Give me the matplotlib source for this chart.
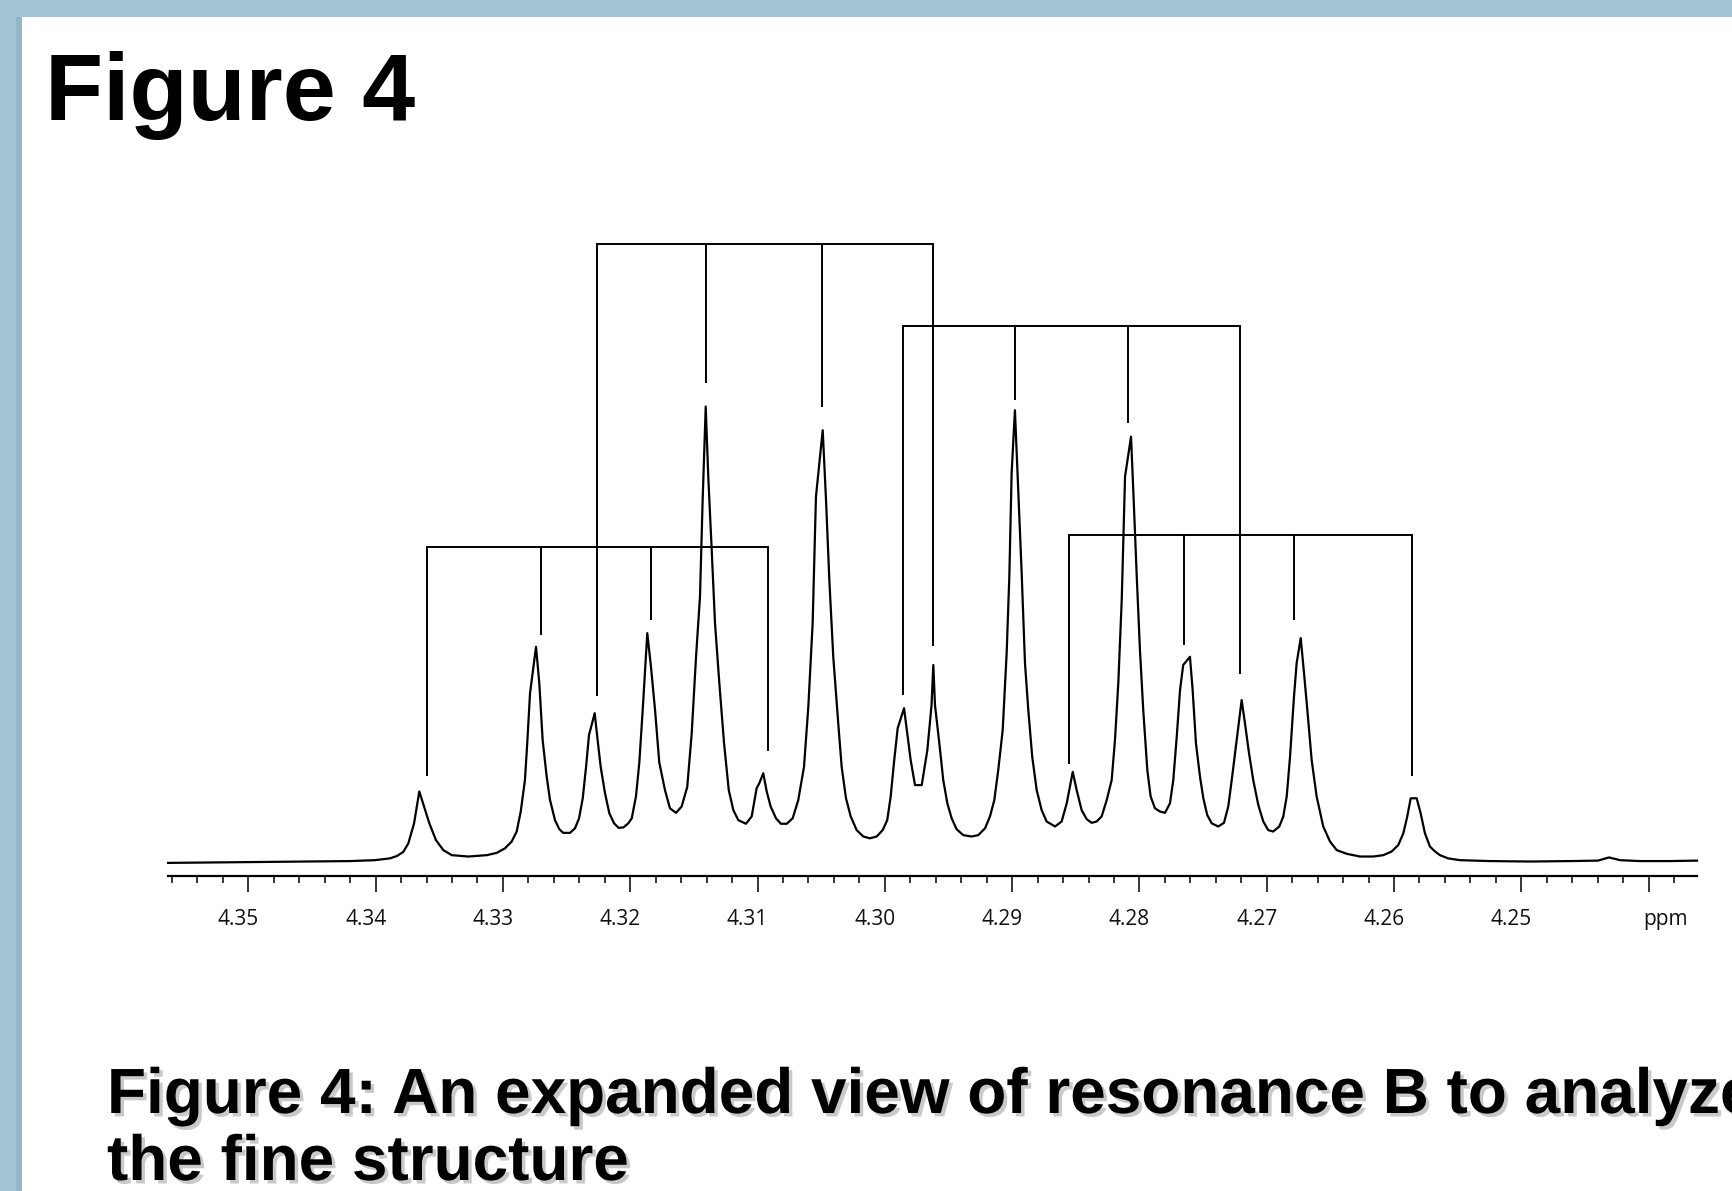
import matplotlib
matplotlib.use("Agg")
import matplotlib.pyplot as plt
import matplotlib.patheffects as pe
from matplotlib.patches import Rectangle
from matplotlib.ticker import MultipleLocator
from matplotlib.transforms import ScaledTranslation

# spectrum trace: chemical shift (ppm) and
# relative intensity (tallest line = 100)
shift_ppm = [
    4.35631, 4.35301, 4.34908, 4.34515, 4.34201, 4.34005, 4.33887, 4.33834,
    4.33783, 4.33743, 4.33698, 4.33657, 4.33578, 4.33526, 4.33468, 4.33402,
    4.33272, 4.33127, 4.33049, 4.32984, 4.32931, 4.32892, 4.32860, 4.32827,
    4.32809, 4.32787, 4.32740, 4.32714, 4.32688, 4.32656, 4.32630, 4.32591,
    4.32557, 4.32526, 4.32473, 4.32434, 4.32402, 4.32373, 4.32347, 4.32324,
    4.32279, 4.32259, 4.32232, 4.32198, 4.32164, 4.32127, 4.32091, 4.32054,
    4.32015, 4.31988, 4.31955, 4.31929, 4.31902, 4.31866, 4.31837, 4.31805,
    4.31772, 4.31727, 4.31688, 4.31640, 4.31596, 4.31552, 4.31517, 4.31483,
    4.31452, 4.31431, 4.31407, 4.31387, 4.31360, 4.31334, 4.31300, 4.31263,
    4.31226, 4.31190, 4.31151, 4.31091, 4.31046, 4.31007, 4.30986, 4.30955,
    4.30928, 4.30897, 4.30855, 4.30816, 4.30771, 4.30724, 4.30680, 4.30635,
    4.30601, 4.30567, 4.30541, 4.30488, 4.30462, 4.30436, 4.30405, 4.30366,
    4.30339, 4.30305, 4.30268, 4.30221, 4.30169, 4.30117, 4.30064, 4.30017,
    4.29981, 4.29954, 4.29926, 4.29899, 4.29849, 4.29797, 4.29763, 4.29710,
    4.29666, 4.29633, 4.29619, 4.29606, 4.29572, 4.29541, 4.29509, 4.29475,
    4.29436, 4.29384, 4.29318, 4.29266, 4.29213, 4.29174, 4.29140, 4.29109,
    4.29074, 4.29043, 4.29022, 4.29004, 4.28978, 4.28952, 4.28925, 4.28899,
    4.28873, 4.28842, 4.28807, 4.28768, 4.28729, 4.28663, 4.28611, 4.28571,
    4.28524, 4.28493, 4.28454, 4.28414, 4.28375, 4.28336, 4.28297, 4.28257,
    4.28218, 4.28192, 4.28166, 4.28139, 4.28113, 4.28066, 4.28043, 4.28022,
    4.27996, 4.27970, 4.27938, 4.27912, 4.27878, 4.27839, 4.27799, 4.27760,
    4.27734, 4.27707, 4.27681, 4.27656, 4.27603, 4.27582, 4.27556, 4.27524,
    4.27498, 4.27467, 4.27432, 4.27381, 4.27336, 4.27302, 4.27275, 4.27236,
    4.27197, 4.27171, 4.27139, 4.27106, 4.27066, 4.27027, 4.26988, 4.26949,
    4.26901, 4.26870, 4.26843, 4.26817, 4.26786, 4.26765, 4.26733, 4.26707,
    4.26681, 4.26647, 4.26608, 4.26556, 4.26503, 4.26450, 4.26372, 4.26267,
    4.26163, 4.26084, 4.26019, 4.25967, 4.25927, 4.25896, 4.25869, 4.25822,
    4.25791, 4.25757, 4.25718, 4.25678, 4.25639, 4.25576, 4.25482, 4.25246,
    4.24932, 4.24617, 4.24398, 4.24311, 4.24225, 4.24068, 4.23832, 4.23620,
]
intensity = [
    -0.2, -0.1, 0.0, 0.1, 0.2, 0.4, 0.8, 1.3,
    2.2, 4.1, 8.5, 15.5, 8.5, 4.8, 2.6, 1.5,
    1.2, 1.5, 2.0, 3.0, 4.5, 6.7, 11.1, 18.0,
    26.1, 37.1, 47.3, 39.2, 26.8, 18.7, 13.6, 9.2,
    7.2, 6.4, 6.4, 7.4, 9.6, 14.0, 20.9, 27.9,
    32.7, 27.5, 20.9, 15.1, 10.7, 8.5, 7.5, 7.6,
    8.5, 9.6, 14.4, 21.7, 33.4, 50.3, 42.9, 33.4,
    21.9, 15.8, 11.8, 10.8, 12.2, 16.5, 28.3, 45.1,
    58.3, 79.6, 100.1, 84.7, 68.6, 52.5, 39.3, 26.1,
    15.8, 11.4, 9.2, 8.4, 10.0, 16.2, 17.3, 19.5,
    15.5, 12.2, 9.6, 8.4, 8.4, 9.6, 13.6, 20.9,
    34.1, 52.5, 80.3, 94.9, 79.6, 62.0, 45.1, 30.5,
    20.9, 14.0, 10.0, 7.0, 5.6, 5.2, 5.6, 7.0,
    9.2, 14.4, 22.4, 29.4, 33.8, 22.4, 16.9, 16.9,
    24.6, 34.5, 43.3, 34.5, 26.1, 18.0, 12.9, 9.6,
    7.2, 5.9, 5.6, 5.9, 7.4, 10.0, 13.6, 20.2,
    29.0, 45.9, 62.7, 85.4, 99.3, 81.8, 63.4, 43.7,
    33.4, 23.1, 15.8, 11.4, 8.9, 7.8, 8.9, 12.9,
    19.8, 15.8, 11.4, 9.4, 8.6, 8.9, 10.0, 13.6,
    18.0, 26.8, 39.3, 57.6, 84.7, 93.5, 78.1, 63.4,
    46.6, 33.4, 20.2, 14.4, 11.8, 11.1, 10.8, 12.9,
    18.0, 27.5, 37.8, 43.3, 45.1, 37.8, 26.1, 18.7,
    14.0, 10.3, 8.5, 7.8, 8.6, 12.2, 18.0, 26.8,
    35.6, 30.5, 23.9, 18.0, 12.5, 8.9, 7.0, 6.7,
    7.8, 10.0, 14.4, 23.1, 36.3, 43.7, 49.2, 41.5,
    33.4, 22.4, 14.4, 7.8, 4.5, 2.6, 1.8, 1.2,
    1.2, 1.5, 2.3, 3.7, 6.3, 10.0, 14.0, 14.0,
    10.7, 6.3, 3.4, 2.3, 1.5, 0.8, 0.4, 0.2,
    0.1, 0.2, 0.3, 1.0, 0.4, 0.2, 0.2, 0.3,
]

# splitting tree: four doublet-of-doublets brackets
bracket_level = [135.8, 117.8, 69.3, 71.9]
bracket_legs = [
    [4.32258, 4.31408, 4.30494, 4.29623],
    [4.29854, 4.28980, 4.28086, 4.27210],
    [4.33599, 4.32701, 4.31839, 4.30915],
    [4.28551, 4.27650, 4.26786, 4.25861],
]
bracket_leg_end = [
    [36.7, 105.2, 100.1, 47.7],
    [36.9, 101.5, 96.4, 41.5],
    [19.1, 49.9, 53.2, 24.6],
    [21.8, 47.7, 53.2, 19.1],
]

major_ticks = [4.35, 4.34, 4.33, 4.32, 4.31, 4.30, 4.29, 4.28, 4.27, 4.26, 4.25, 4.24]
tick_labels = ["4.35", "4.34", "4.33", "4.32", "4.31", "4.30", "4.29", "4.28",
               "4.27", "4.26", "4.25", "ppm"]

title = "Figure 4"
caption_1 = "Figure 4: An expanded view of resonance B to analyze"
caption_2 = "the fine structure"

W, H = 1733, 1191
fig = plt.figure(figsize=(W / 100, H / 100), dpi=100)
fig.patch.set_facecolor("#a3c4d4")

# white slide panel with a faint shadow on its left edge
fig.add_artist(Rectangle((16 / W, 0), 6 / W, 1 - 17 / H, transform=fig.transFigure,
                         facecolor="#93b5c6", edgecolor="none", zorder=0))
fig.add_artist(Rectangle((22 / W, 0), 1, 1 - 17 / H, transform=fig.transFigure,
                         facecolor="white", edgecolor="none", zorder=0))

fig.text(45 / W, 1 - 120 / H, title, fontsize=68.5, fontweight="bold",
         family="Liberation Sans", va="baseline", ha="left")

shadow = [pe.withSimplePatchShadow(offset=(2.5, -2.5), shadow_rgbFace="#888888", alpha=0.45)]
fig.text(107 / W, 1 - 1113 / H, caption_1, fontsize=46, fontweight="bold",
         family="Liberation Sans", va="baseline", ha="left", path_effects=shadow)
fig.text(107 / W, 1 - 1180 / H, caption_2, fontsize=46, fontweight="bold",
         family="Liberation Sans", va="baseline", ha="left", path_effects=shadow)

ax = fig.add_axes([168 / W, (H - 876) / H, (1697 - 168) / W, (876 - 230) / H])
ax.set_facecolor("none")

ax.plot(shift_ppm, intensity, color="black", lw=1.6, clip_on=False)

for level, legs, ends in zip(bracket_level, bracket_legs, bracket_leg_end):
    ax.plot([legs[0], legs[0], legs[-1], legs[-1]], [ends[0], level, level, ends[-1]],
            color="black", lw=1.4, clip_on=False, solid_joinstyle="miter")
    ax.vlines(legs[1:-1], ends[1:-1], level, color="black", lw=1.4, clip_on=False)

ax.set_xlim(4.35631, 4.23620)
ax.set_ylim(-3.08, 138.9)
ax.set_yticks([])
for side in ["top", "left", "right"]:
    ax.spines[side].set_visible(False)
ax.spines["bottom"].set_linewidth(1.6)
ax.spines["bottom"].set_color("black")

ax.set_xticks(major_ticks, labels=tick_labels)
ax.xaxis.set_minor_locator(MultipleLocator(0.002))
ax.tick_params(axis="x", which="major", length=11.5, width=1.1, pad=12,
               labelsize=15, labelcolor="#111111")
ax.tick_params(axis="x", which="minor", length=5, width=1.1)
for lab in ax.get_xticklabels():
    lab.set_family("Open Sans")

# labels in the original sit a little left of their ticks; "ppm" a little right
for tick, text in zip(ax.xaxis.get_major_ticks(), tick_labels):
    dx = 17 if text == "ppm" else -10
    tick.label1.set_transform(tick.label1.get_transform()
                              + ScaledTranslation(dx / 100, 0, fig.dpi_scale_trans))

fig.savefig("out.png", dpi=100, facecolor=fig.get_facecolor())
